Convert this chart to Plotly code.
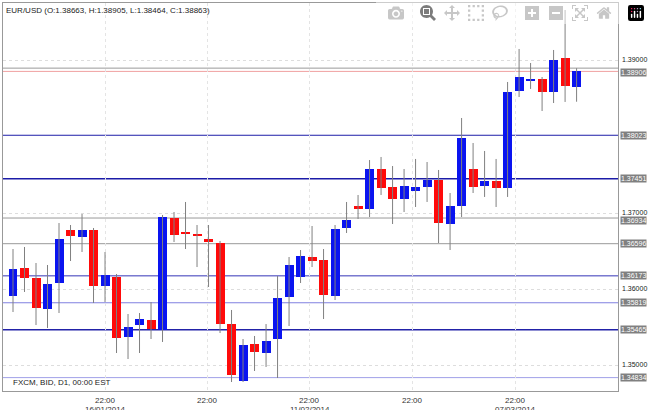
import plotly.graph_objects as go

opens  = [1.35908,1.36276,1.36145,1.35737,1.36079,1.36776,1.36684,1.36776,1.36039,1.36158,
          1.35368,1.35526,1.35592,1.35461,1.36934,1.36737,1.36724,1.36658,1.36605,1.35539,
          1.34789,1.35276,1.35158,1.35342,1.35895,1.36158,1.36421,1.36382,1.35908,1.36803,
          1.37092,1.37053,1.37579,1.37342,1.37184,1.37289,1.37342,1.37434,1.36855,1.37092,
          1.37579,1.37355,1.37421,1.37329,1.38605,1.38737,1.38763,1.38592,1.39039,1.38663]
highs  = [1.36526,1.36553,1.36342,1.36316,1.36868,1.36842,1.36987,1.36803,1.36487,1.36197,
          1.35671,1.35684,1.35829,1.36974,1.37013,1.37145,1.36842,1.36842,1.36632,1.35724,
          1.35342,1.35382,1.35539,1.36171,1.36421,1.36513,1.36829,1.36526,1.36842,1.37145,
          1.37237,1.37697,1.37737,1.37618,1.37579,1.37711,1.37671,1.37566,1.37263,1.38250,
          1.37921,1.37816,1.37711,1.38724,1.39158,1.38974,1.38789,1.39145,1.39671,1.38905]
lows   = [1.35697,1.35961,1.35526,1.35487,1.35684,1.36368,1.36487,1.35816,1.35829,1.35158,
          1.35079,1.35158,1.35342,1.35303,1.36618,1.36526,1.36289,1.36026,1.35421,1.34776,
          1.34776,1.34921,1.34974,1.34829,1.35513,1.36079,1.36289,1.35605,1.35855,1.36737,
          1.36921,1.36947,1.37237,1.36855,1.37013,1.37079,1.37145,1.36605,1.36513,1.36947,
          1.37263,1.37211,1.37079,1.37211,1.38526,1.38632,1.38342,1.38447,1.38461,1.38464]
closes = [1.36263,1.36145,1.35750,1.36066,1.36658,1.36697,1.36776,1.36039,1.36184,1.35355,
          1.35500,1.35605,1.35474,1.36947,1.36711,1.36724,1.36697,1.36618,1.35539,1.34868,
          1.35263,1.35171,1.35316,1.35882,1.36316,1.36434,1.36368,1.35921,1.36789,1.36908,
          1.37053,1.37579,1.37329,1.37184,1.37355,1.37342,1.37434,1.36868,1.37092,1.37987,
          1.37342,1.37421,1.37329,1.38592,1.38789,1.38763,1.38592,1.39013,1.38671,1.38863]

levels = [1.38906, 1.38023, 1.37451, 1.36934, 1.36596, 1.36173, 1.35819, 1.35465, 1.34834]
level_colors = ["#999999", "#1c1ca8", "#1c1ca8", "#999999", "#999999", "#3434b8", "#8080e0", "#2222a8", "#a0a0e8"]
level_widths = [1, 1, 1.5, 1, 1, 1, 1, 1.5, 1]
last_close = 1.38863

ytick_vals = [1.39, 1.37, 1.36, 1.35]
ytick_text = ["1.39000", "1.37000", "1.36000", "1.35000"]
xtick_pos = [8.0, 16.9, 25.8, 34.7, 43.7]
xtick_time = ["22:00", "22:00", "22:00", "22:00", "22:00"]
xtick_date = ["16/01/2014", "", "11/02/2014", "", "07/03/2014"]

idx = list(range(len(opens)))

wx, wy = [], []
for i in idx:
    wx += [i, i, None]
    wy += [highs[i], lows[i], None]

base = [min(o, c) for o, c in zip(opens, closes)]
height = [max(abs(c - o), 0.00004) for o, c in zip(opens, closes)]
colors = ["#0a14f0" if c >= o else "#ff0a0a" for o, c in zip(opens, closes)]

fig = go.Figure()
fig.add_trace(go.Scatter(x=wx, y=wy, mode="lines", line=dict(color="#808080", width=1),
                         hoverinfo="skip", showlegend=False))
fig.add_trace(go.Bar(x=idx, y=height, base=base, marker=dict(color=colors, line=dict(width=0)),
                     width=0.78, showlegend=False))

shapes = []
for lv, col, w in zip(levels, level_colors, level_widths):
    shapes.append(dict(type="line", xref="paper", x0=0, x1=1, yref="y", y0=lv, y1=lv,
                       line=dict(color=col, width=w), layer="below"))
shapes.append(dict(type="line", xref="paper", x0=0, x1=1, yref="y", y0=last_close, y1=last_close,
                   line=dict(color="#f0a0a0", width=1), layer="below"))

F = "Liberation Sans"
annotations = []
for v, t in zip(ytick_vals, ytick_text):
    annotations.append(dict(xref="paper", x=1.004, xanchor="left", yref="y", y=v, yshift=1,
                            text=t, showarrow=False, font=dict(size=7, color="#222", family=F)))
for lv in levels:
    annotations.append(dict(xref="paper", x=1.004, xanchor="left", yref="y", y=lv,
                            yshift=-4 if lv == 1.38906 else (-2 if lv == 1.36934 else 0),
                            text=f"{lv:.5f}", showarrow=False, bgcolor="#808080",
                            font=dict(color="white", size=7, family=F), borderpad=0))
for p, t, d in zip(xtick_pos, xtick_time, xtick_date):
    annotations.append(dict(xref="x", x=p, yref="paper", y=0, yshift=-3, yanchor="top",
                            text=t, showarrow=False, font=dict(size=8, color="#333", family=F)))
    if d:
        annotations.append(dict(xref="x", x=p, yref="paper", y=0, yshift=-12, yanchor="top",
                                text=d, showarrow=False, font=dict(size=8, color="#333", family=F)))
annotations.append(dict(xref="paper", yref="paper", x=0.002, y=0.997, xanchor="left", yanchor="top",
                        text="EUR/USD (O:1.38663, H:1.38905, L:1.38464, C:1.38863)", showarrow=False,
                        font=dict(size=8, color="#222", family=F)))
annotations.append(dict(xref="paper", yref="paper", x=0.013, y=0.005, xanchor="left", yanchor="bottom",
                        text="FXCM, BID, D1, 00:00 EST", showarrow=False,
                        font=dict(size=8, color="#222", family=F)))

fig.update_layout(
    width=650, height=410, margin=dict(l=3, r=32, t=3, b=19),
    paper_bgcolor="white", plot_bgcolor="white", bargap=0,
    shapes=shapes, annotations=annotations,
    xaxis=dict(range=[-0.87, 52.6], tickvals=xtick_pos, showticklabels=False, showgrid=True,
               gridcolor="#e4e4e4", griddash="dot", zeroline=False, showline=True, linecolor="#999",
               mirror=True, ticks=""),
    yaxis=dict(range=[1.34658, 1.39763], side="right", tickvals=ytick_vals, showticklabels=False,
               showgrid=True, gridcolor="#dddddd", griddash="dot", zeroline=False, showline=True,
               linecolor="#999", mirror=True, ticks=""),
    font=dict(family=F),
)
fig.write_html("out.html", post_script="document.body.style.margin='0';document.body.style.overflow='hidden';")
